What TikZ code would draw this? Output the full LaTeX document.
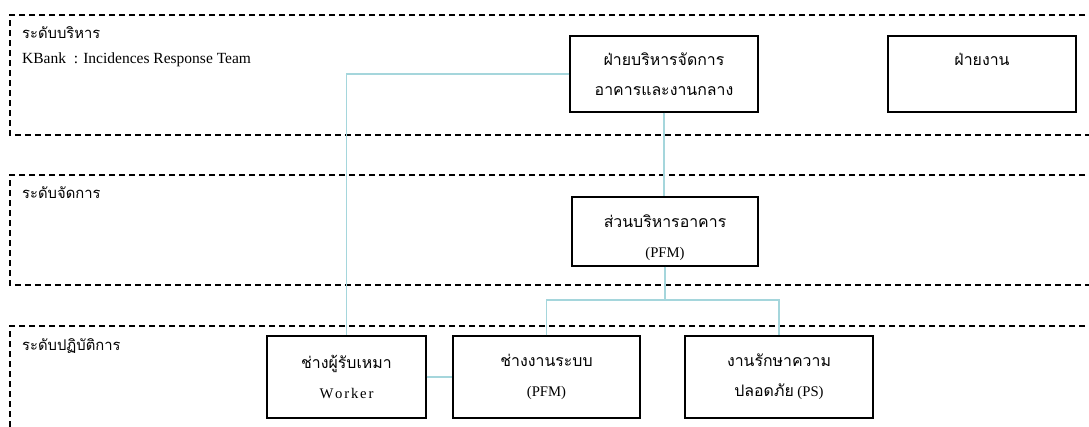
\documentclass[tikz,border=0pt]{standalone}
\usepackage{fontspec}
\usetikzlibrary{calc}
\setmainfont{Liberation Serif}
\newfontfamily\thaifont[Script=Thai,Scale=1.08]{Loma}
\newcommand{\thx}[1]{{\thaifont #1}}
\definecolor{linkblue}{RGB}{165,214,220}
\begin{document}
\begin{tikzpicture}[x=1pt,y=-1pt]
\tikzset{
  band/.style={draw=black, line width=1.3pt, dash pattern=on 6pt off 4pt},
  unittext/.style={inner sep=0pt, align=center, font=\fontsize{14.7}{30}\selectfont},
  unit/.style={draw=black, line width=1.3pt, rectangle, unittext},
  link/.style={draw=linkblue, line width=1.4pt},
  tag/.style={anchor=west, inner sep=0pt, font=\fontsize{13.7}{16}\selectfont}
}
\useasboundingbox (0,0) rectangle (1089,426);

% level bands (open to the right)
\draw[band] (1095,15) -- (10,15) -- (10,135) -- (1095,135);
\draw[band] (1095,175) -- (10,175) -- (10,285) -- (1095,285);
\draw[band] (1095,326) -- (10,326) -- (10,440);

% level captions
\node[tag] (lv1) at (22,33) {\thx{ระดับบริหาร}};
\node[tag, font=\fontsize{15.5}{18}\selectfont] (team) at (22,60) {KBank\ \ : Incidences Response Team};
\node[tag] (lv2) at (22,193) {\thx{ระดับจัดการ}};
\node[tag] (lv3) at (22,346) {\thx{ระดับปฏิบัติการ}};

% units
\node[unit, minimum width=188pt, minimum height=76pt] (b1) at (664,74)
  {\thx{ฝ่ายบริหารจัดการ}\\\thx{อาคารและงานกลาง}};
\node[unit, minimum width=188pt, minimum height=76pt] (b2) at (982,74)
  {\thx{ฝ่ายงาน}\\\phantom{\thx{อาคารและงานกลาง}}};
\node[unit, minimum width=186pt, minimum height=69pt] (b3) at (665,231.5) {};
\node[unittext] (b3t) at ($(b3.center)+(0,6)$) {\thx{ส่วนบริหารอาคาร}\\(PFM)};
\node[unit, minimum width=159pt, minimum height=82pt] (b4) at (346.5,377)
  {\thx{ช่างผู้รับเหมา}\\W\kern1.8pt o\kern1.8pt r\kern1.8pt k\kern1.8pt e\kern1.8pt r};
\node[unit, minimum width=187pt, minimum height=82pt] (b5) at (546.5,377)
  {\thx{ช่างงานระบบ}\\(PFM)};
\node[unit, minimum width=188pt, minimum height=82pt] (b6) at (779,377)
  {\thx{งานรักษาความ}\\\thx{ปลอดภัย} (PS)};

% connectors
\coordinate (fork) at (665,300);
\draw[link] (b1.west) -| (b4.north);
\draw[link] (b1.south) -- (b1.south |- b3.north);
\draw[link] (b3.south) -- (fork);
\draw[link] (b5.north) |- (fork) -| (b6.north);
\draw[link] (b4.east) -- (b5.west);
\end{tikzpicture}
\end{document}
